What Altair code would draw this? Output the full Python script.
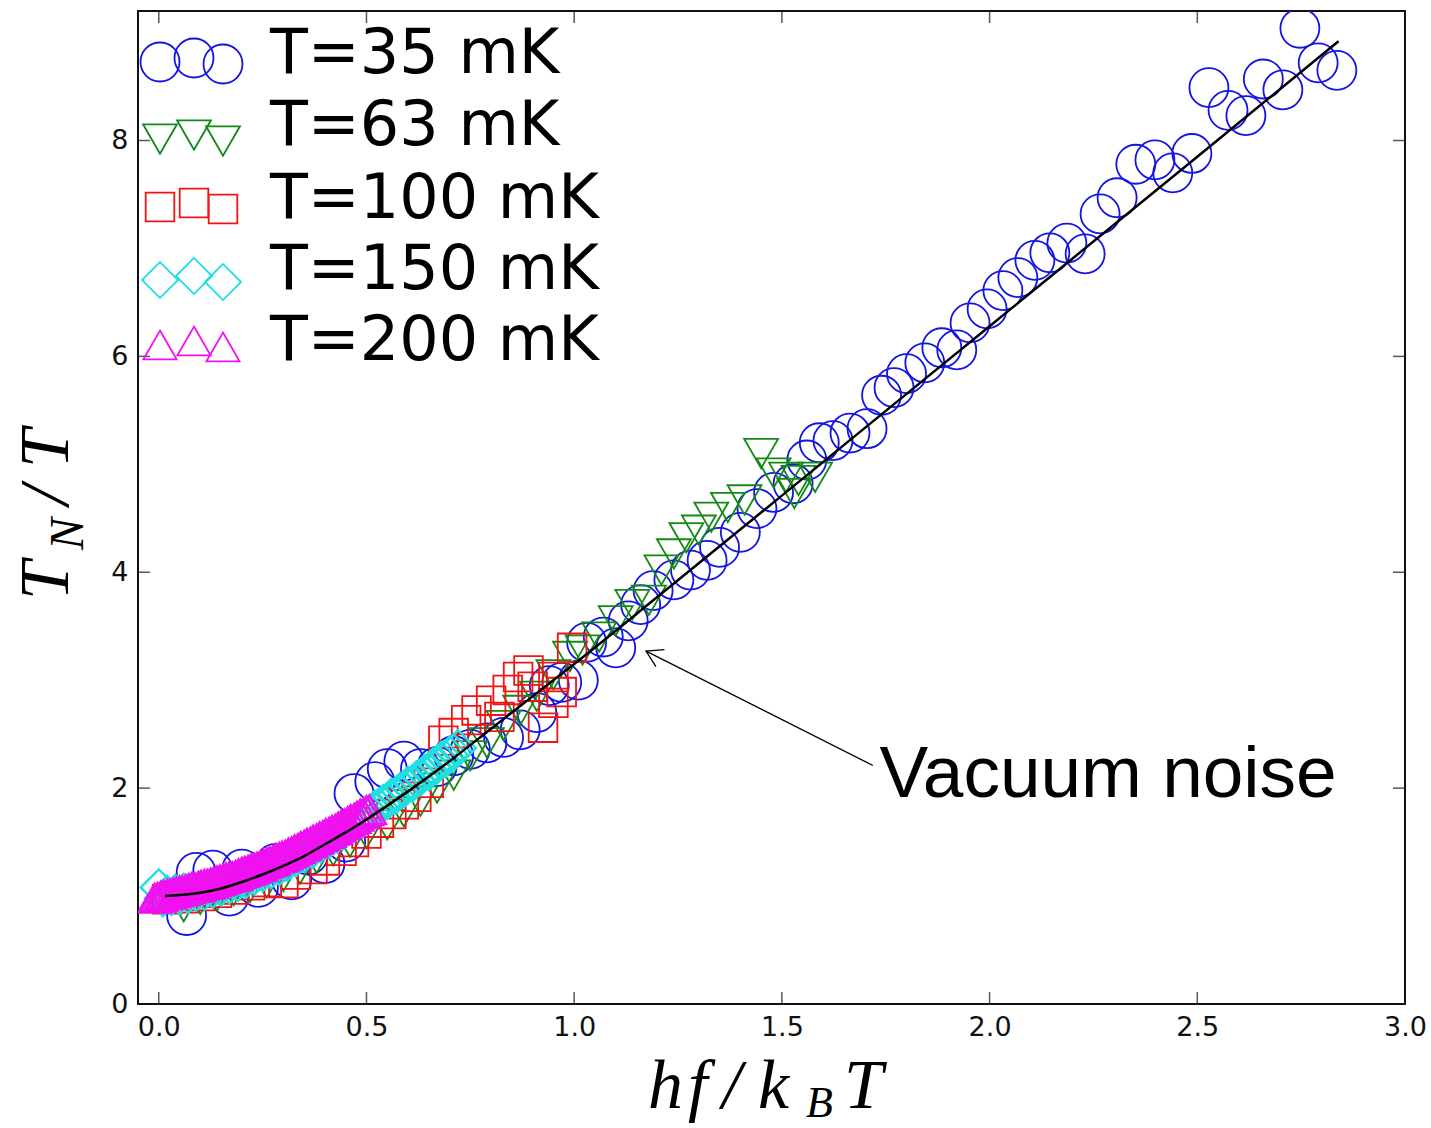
import altair as alt
import pandas as pd

# ---------------- data ----------------
series = ["T=35 mK", "T=63 mK", "T=100 mK", "T=150 mK", "T=200 mK"]
colors = ["#1414e6", "#138a13", "#f01414", "#1fe0e0", "#f010f0"]
shapes = ["circle", "triangle-down", "square", "diamond", "triangle-up"]

blue_x = [0.067, 0.09, 0.13, 0.17, 0.20, 0.24, 0.28, 0.32, 0.36, 0.40, 0.45, 0.47, 0.52, 0.55, 0.59,
          0.63, 0.67, 0.71, 0.75, 0.79, 0.83, 0.87, 0.91, 0.94, 0.97, 1.01, 1.03, 1.07, 1.10, 1.13,
          1.16, 1.19, 1.24, 1.28, 1.32, 1.35, 1.40, 1.44, 1.48, 1.527, 1.56, 1.59, 1.623, 1.664, 1.705,
          1.74, 1.77, 1.80, 1.844, 1.885, 1.921, 1.953, 1.994, 2.032, 2.068, 2.109, 2.145, 2.186, 2.23, 2.266,
          2.307, 2.352, 2.398, 2.441, 2.487, 2.528, 2.574, 2.617, 2.659, 2.706, 2.747, 2.791, 2.836]
blue_y = [0.82, 1.22, 1.24, 1.00, 1.25, 1.08, 1.30, 1.15, 1.38, 1.30, 1.50, 1.95, 2.06, 2.18, 2.25,
          2.18, 2.20, 2.30, 2.36, 2.42, 2.47, 2.54, 2.70, 2.95, 2.98, 3.00, 3.35, 3.40, 3.30, 3.55,
          3.70, 3.83, 3.93, 4.02, 4.11, 4.23, 4.37, 4.59, 4.74, 4.82, 5.04, 5.20, 5.22, 5.29, 5.33,
          5.64, 5.71, 5.84, 5.94, 6.08, 6.06, 6.31, 6.44, 6.61, 6.73, 6.89, 6.96, 7.05, 6.95, 7.32,
          7.47, 7.78, 7.82, 7.70, 7.88, 8.49, 8.28, 8.23, 8.57, 8.47, 9.04, 8.72, 8.65]

green_x = [0.06, 0.10, 0.14, 0.18, 0.22, 0.26, 0.30, 0.34, 0.38, 0.42, 0.46, 0.50, 0.55, 0.59, 0.63,
           0.67, 0.71, 0.75, 0.79, 0.83, 0.87, 0.91, 0.95, 0.99, 1.02, 1.06, 1.10, 1.14, 1.18, 1.21,
           1.24, 1.27, 1.30, 1.33, 1.37, 1.41, 1.45, 1.48, 1.51, 1.53, 1.54, 1.58]
green_y = [0.90, 0.97, 1.00, 1.05, 1.08, 1.12, 1.18, 1.25, 1.35, 1.42, 1.50, 1.58, 1.66, 1.78, 1.88,
           2.00, 2.12, 2.30, 2.42, 2.58, 2.72, 2.85, 3.05, 3.22, 3.28, 3.40, 3.55, 3.70, 3.74, 4.02,
           4.17, 4.32, 4.39, 4.51, 4.60, 4.67, 5.10, 4.92, 4.88, 4.73, 4.85, 4.88]

red_x = [0.02, 0.06, 0.10, 0.14, 0.18, 0.22, 0.26, 0.30, 0.33, 0.37, 0.40, 0.44, 0.47, 0.50, 0.53,
         0.56, 0.59, 0.62, 0.65, 0.685, 0.71, 0.74, 0.765, 0.80, 0.82, 0.84, 0.865, 0.89, 0.90, 0.925,
         0.95, 0.95, 0.97, 0.995]
red_y = [0.97, 0.98, 1.00, 1.03, 1.06, 1.10, 1.13, 1.12, 1.20, 1.25, 1.33, 1.42, 1.50, 1.58, 1.68,
         1.76, 1.85, 1.92, 2.05, 2.44, 2.51, 2.63, 2.72, 2.81, 2.66, 2.91, 3.03, 3.09, 2.94, 2.56,
         2.79, 3.03, 2.89, 3.30]

cyan_x = [0.00, 0.01, 0.02, 0.03, 0.04, 0.05, 0.06, 0.07, 0.08, 0.09, 0.10, 0.11, 0.12, 0.13, 0.14,
          0.15, 0.16, 0.17, 0.18, 0.19, 0.20, 0.21, 0.22, 0.23, 0.24, 0.25, 0.26, 0.27, 0.28, 0.29,
          0.30, 0.31, 0.32, 0.33, 0.34, 0.35, 0.36, 0.37, 0.38, 0.39, 0.40, 0.41, 0.42, 0.43, 0.44,
          0.45, 0.46, 0.47, 0.48, 0.49, 0.50, 0.51, 0.52, 0.53, 0.54, 0.55, 0.56, 0.57, 0.58, 0.59,
          0.60, 0.61, 0.62, 0.63, 0.64, 0.65, 0.66, 0.67, 0.68, 0.69, 0.70, 0.71, 0.72]
cyan_y = [1.08, 0.98, 1.02, 0.99, 1.03, 1.00, 1.04, 1.01, 1.05, 1.03, 1.06, 1.04, 1.08, 1.06, 1.10,
          1.08, 1.12, 1.10, 1.14, 1.12, 1.16, 1.15, 1.19, 1.18, 1.22, 1.21, 1.25, 1.24, 1.28, 1.27,
          1.31, 1.31, 1.35, 1.35, 1.39, 1.39, 1.43, 1.43, 1.47, 1.48, 1.51, 1.52, 1.56, 1.57, 1.60,
          1.62, 1.65, 1.67, 1.70, 1.72, 1.76, 1.77, 1.81, 1.83, 1.86, 1.88, 1.92, 1.93, 1.97, 1.99,
          2.03, 2.04, 2.08, 2.10, 2.14, 2.15, 2.20, 2.21, 2.26, 2.27, 2.31, 2.33, 2.37]

magenta_x = [-0.010, -0.003, 0.005, 0.012, 0.020, 0.027, 0.035, 0.042, 0.050, 0.057, 0.065, 0.072,
             0.080, 0.087, 0.095, 0.102, 0.110, 0.117, 0.125, 0.132, 0.140, 0.147, 0.155, 0.162,
             0.170, 0.177, 0.185, 0.192, 0.200, 0.207, 0.215, 0.222, 0.230, 0.237, 0.245, 0.252,
             0.260, 0.267, 0.275, 0.282, 0.290, 0.297, 0.305, 0.312, 0.320, 0.327, 0.335, 0.342,
             0.350, 0.357, 0.365, 0.372, 0.380, 0.387, 0.395, 0.402, 0.410, 0.417, 0.425, 0.432,
             0.440, 0.447, 0.455, 0.462, 0.470, 0.477, 0.485, 0.492, 0.500, 0.507]
magenta_y = [0.98, 0.99, 1.00, 1.01, 1.02, 1.02, 1.03, 1.04, 1.05, 1.05, 1.06, 1.07,
             1.08, 1.08, 1.09, 1.10, 1.11, 1.11, 1.12, 1.13, 1.14, 1.15, 1.16, 1.17,
             1.18, 1.18, 1.19, 1.21, 1.22, 1.23, 1.24, 1.25, 1.26, 1.27, 1.28, 1.30,
             1.31, 1.32, 1.33, 1.35, 1.36, 1.37, 1.38, 1.40, 1.41, 1.43, 1.44, 1.46,
             1.47, 1.49, 1.50, 1.52, 1.53, 1.55, 1.56, 1.58, 1.59, 1.61, 1.62, 1.64,
             1.66, 1.67, 1.69, 1.71, 1.72, 1.74, 1.76, 1.77, 1.79, 1.80]

curve_x = [0.015, 0.05, 0.1, 0.15, 0.2, 0.25, 0.3, 0.35, 0.4, 0.45, 0.5, 0.6, 0.7, 0.8, 0.9, 1.0,
           1.2, 1.5, 2.0, 2.5, 2.84]
curve_y = [1.00, 1.01, 1.03, 1.07, 1.13, 1.20, 1.28, 1.37, 1.48, 1.59, 1.71, 1.97, 2.25, 2.55, 2.85,
           3.15, 3.77, 4.71, 6.28, 7.85, 8.92]

x_ticks = [0.0, 0.5, 1.0, 1.5, 2.0, 2.5, 3.0]
y_ticks = [0, 2, 4, 6, 8]

annot_text = "Vacuum noise"
annot_text_xy = [1.735, 1.92]
arrow_tip = [1.173, 3.27]
arrow_tail = [1.719, 2.21]

# ---------------- layout ----------------
W, H = 1267, 993
sizes = [1520, 1150, 820, 1300, 1100]
strokes = [1.8, 1.8, 1.8, 2.4, 2.4]

xs = alt.Scale(domain=[-0.05, 3.0], nice=False, zero=False)
ys = alt.Scale(domain=[0, 9.2], nice=False, zero=False)

X = alt.X("x:Q", scale=xs, axis=alt.Axis(values=x_ticks, format=".1f", title=None, ticks=False,
                                          domain=False, grid=False, labelFont="DejaVu Sans",
                                          labelFontSize=27, labelColor="#111", labelPadding=10,
                                          labelFlush=False))
Y = alt.Y("y:Q", scale=ys, axis=alt.Axis(values=y_ticks, format="d", title=None, ticks=False,
                                          domain=False, grid=False, labelFont="DejaVu Sans",
                                          labelFontSize=27, labelColor="#111", labelPadding=10,
                                          labelFlush=False))

layers = []
all_x = [blue_x, green_x, red_x, cyan_x, magenta_x]
all_y = [blue_y, green_y, red_y, cyan_y, magenta_y]
for i in range(5):
    df = pd.DataFrame({"x": all_x[i], "y": all_y[i]})
    layers.append(
        alt.Chart(df).mark_point(shape=shapes[i], size=sizes[i], filled=False, color=colors[i],
                                 strokeWidth=strokes[i], opacity=1, clip=True).encode(x=X, y=Y)
    )

layers.append(
    alt.Chart(pd.DataFrame({"x": curve_x, "y": curve_y}))
    .mark_line(color="black", strokeWidth=2.5, interpolate="monotone")
    .encode(x=X, y=Y)
)

# inward ticks on all four sides
xt = pd.DataFrame({"x": x_ticks})
yt = pd.DataFrame({"y": y_ticks})
layers.append(alt.Chart(xt).mark_tick(orient="vertical", size=12, thickness=1.5, color="#111")
              .encode(x=X, y=alt.value(H - 6)))
layers.append(alt.Chart(xt).mark_tick(orient="vertical", size=12, thickness=1.5, color="#111")
              .encode(x=X, y=alt.value(6)))
layers.append(alt.Chart(yt).mark_tick(orient="horizontal", size=12, thickness=1.5, color="#111")
              .encode(y=Y, x=alt.value(6)))
layers.append(alt.Chart(yt).mark_tick(orient="horizontal", size=12, thickness=1.5, color="#111")
              .encode(y=Y, x=alt.value(W - 6)))

# annotation arrow + text
arrow_df = pd.DataFrame({"x": [arrow_tail[0]], "y": [arrow_tail[1]],
                         "x2": [arrow_tip[0]], "y2": [arrow_tip[1]]})
layers.append(alt.Chart(arrow_df).mark_rule(color="black", strokeWidth=1.3)
              .encode(x=X, y=Y, x2="x2:Q", y2="y2:Q"))
tip_df = pd.DataFrame({"x": [arrow_tip[0]], "y": [arrow_tip[1]]})
layers.append(alt.Chart(tip_df).mark_point(shape="M-1,-0.6L0,0L-1,0.6", filled=False, color="black",
                                           strokeWidth=1.3, size=1000, angle=206.7, opacity=1)
              .encode(x=X, y=Y))
txt_df = pd.DataFrame({"x": [annot_text_xy[0]], "y": [annot_text_xy[1]]})
layers.append(alt.Chart(txt_df).mark_text(text=annot_text, align="left", baseline="alphabetic",
                                          font="Liberation Sans", fontSize=73, color="black")
              .encode(x=X, y=Y))

# legend (three markers per entry, matplotlib scatter style)
dummy = pd.DataFrame({"a": [0]})
leg_x = [22, 56, 85]
leg_dy = [0, -4, 2]
leg_row = [51, 128, 196, 269, 334]
leg_text_base = [62, 134, 207, 278, 349]
for i in range(5):
    for k in range(3):
        layers.append(alt.Chart(dummy).mark_point(shape=shapes[i], size=sizes[i], filled=False,
                                                  color=colors[i], strokeWidth=1.8, opacity=1)
                      .encode(x=alt.value(leg_x[k]), y=alt.value(leg_row[i] + leg_dy[k])))
    layers.append(alt.Chart(dummy).mark_text(text=series[i], align="left", baseline="alphabetic",
                                             font="DejaVu Sans", fontSize=62, color="black")
                  .encode(x=alt.value(132), y=alt.value(leg_text_base[i])))

# axis titles (math style pieces)
serif = "Liberation Serif"
def piece(t, x, y, size, angle=0):
    return (alt.Chart(dummy).mark_text(text=t, align="left", baseline="alphabetic", font=serif,
                                       fontStyle="italic", fontSize=size, color="black", angle=angle)
            .encode(x=alt.value(x), y=alt.value(y)))

# y title: T_N / T (rotated)
layers.append(piece("T", -70, 589, 70, 270))
layers.append(piece("N", -55, 539, 48, 270))
layers.append(piece("/", -70, 494, 70, 270))
layers.append(piece("T", -70, 457, 70, 270))
# x title: hf/k_B T
layers.append(piece("h", 510, 1097, 70))
layers.append(piece("f", 550, 1097, 70))
layers.append(piece("/", 584, 1097, 70))
layers.append(piece("k", 620, 1097, 70))
layers.append(piece("B", 668, 1106, 44))
layers.append(piece("T", 706, 1097, 70))

chart = (
    alt.layer(*layers)
    .properties(width=W, height=H,
                padding={"left": 138, "top": 11, "right": 26, "bottom": 124},
                autosize=alt.AutoSizeParams(type="none"))
    .configure(background="white")
    .configure_view(stroke="#111", strokeWidth=2)
)

chart.save("out.html", embed_options={"renderer": "svg", "actions": False})
